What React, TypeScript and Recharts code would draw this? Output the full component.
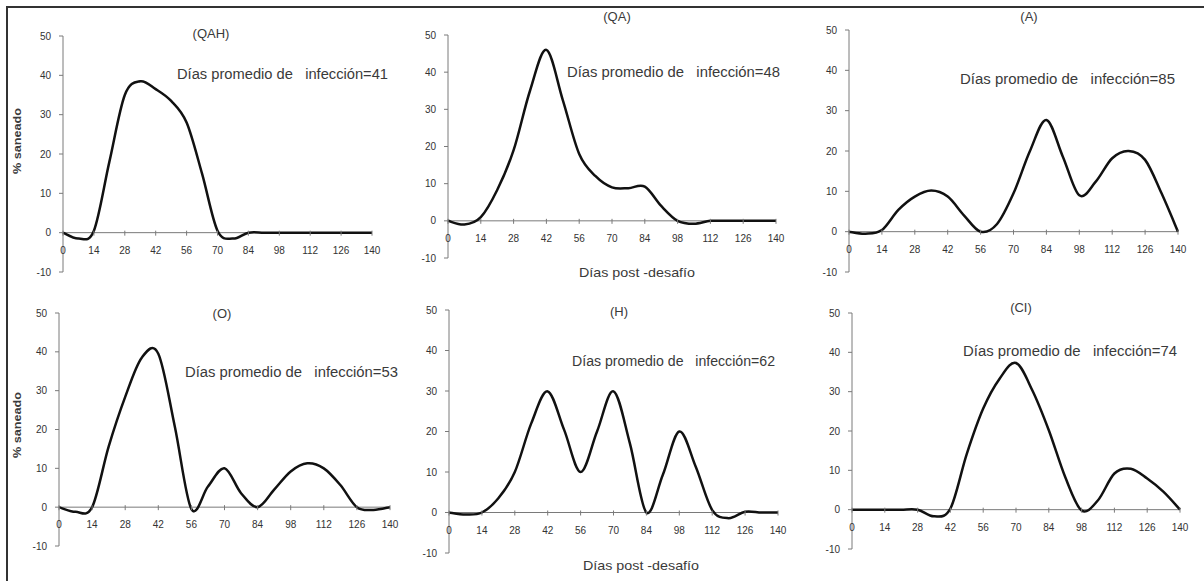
import React from 'react';
import { LineChart, Line, XAxis, YAxis, ReferenceLine } from 'recharts';

// ---------- data ----------
const days = [0, 7, 14, 21, 28, 35, 42, 49, 56, 63, 70, 77, 84, 91, 98, 105, 112, 119, 126, 133, 140];
const xTicks = [0, 14, 28, 42, 56, 70, 84, 98, 112, 126, 140];
const yTicks = [-10, 0, 10, 20, 30, 40, 50];

const seriesQAH = [0, -1.5, 0.5, 18, 35, 38.5, 36.5, 33.5, 28, 15, 0.5, -1.5, 0, 0, 0, 0, 0, 0, 0, 0, 0];
const seriesQA = [0, -1, 1, 8.3, 19, 35, 46, 32.5, 18, 12, 9, 8.8, 9.2, 4, 0, -0.8, 0, 0, 0, 0, 0];
const seriesA = [0, -0.5, 0.4, 5.4, 8.7, 10.2, 8.7, 4, 0, 1.9, 9.5, 20, 27.7, 18.6, 9, 12.4, 18.2, 20, 17.8, 9.5, 0];
const seriesO = [0, -1.2, 0, 15.6, 28.4, 38.5, 39.5, 20.7, -0.5, 5.3, 10, 3.6, 0, 4.5, 9.2, 11.3, 10, 5.7, 0, -0.7, 0];
const seriesH = [0, -0.5, 0, 3.5, 10, 22, 29.9, 20.4, 10, 20, 29.9, 17, 0, 9.3, 20, 11.3, 0.6, -1.4, 0.2, 0, 0];
const seriesCI = [0, 0, 0, 0, 0, -1.7, 0.3, 14.2, 25.7, 33.3, 37.3, 30.3, 20.2, 8.3, -0.2, 2.4, 9.2, 10.4, 7.9, 4.5, 0];

const titles = ['(QAH)', '(QA)', '(A)', '(O)', '(H)', '(CI)'];
const meanDays = [41, 48, 85, 53, 62, 74];
const yLabel = '% saneado';
const xLabel = 'Días post -desafío';

// ---------- layout ----------
const FONT = '"Liberation Sans", Arial, sans-serif';
const AXIS = '#7a7a7a';
const TXT = '#3a3a3a';
const YW = 40;
const MT = 10;
const MR = 12;
const XH = 14;

type Panel = {
  data: number[];
  axisX: number; endX: number; y50: number; yBot: number;
  titleX: number; titleY: number;
  noteX: number; noteY: number; noteW: number;
  showY: boolean; yLabY: number;
  showX: boolean; xLabX: number; xLabY: number;
};

const panels: Panel[] = [
  { data: seriesQAH, axisX: 63, endX: 372, y50: 36, yBot: 272, titleX: 211, titleY: 38, noteX: 177, noteY: 79, noteW: 211, showY: true, yLabY: 141, showX: false, xLabX: 0, xLabY: 0 },
  { data: seriesQA, axisX: 448, endX: 776, y50: 35, yBot: 258, titleX: 617, titleY: 21, noteX: 567, noteY: 77, noteW: 213, showY: false, yLabY: 0, showX: true, xLabX: 637, xLabY: 277 },
  { data: seriesA, axisX: 849, endX: 1178, y50: 30, yBot: 272, titleX: 1029, titleY: 21, noteX: 960, noteY: 84, noteW: 215, showY: false, yLabY: 0, showX: false, xLabX: 0, xLabY: 0 },
  { data: seriesO, axisX: 59, endX: 390, y50: 313, yBot: 546, titleX: 222, titleY: 318, noteX: 185, noteY: 377, noteW: 213, showY: true, yLabY: 425, showX: false, xLabX: 0, xLabY: 0 },
  { data: seriesH, axisX: 449, endX: 778, y50: 310, yBot: 553, titleX: 619, titleY: 316, noteX: 572, noteY: 366, noteW: 203, showY: false, yLabY: 0, showX: true, xLabX: 641, xLabY: 570 },
  { data: seriesCI, axisX: 852, endX: 1180, y50: 313, yBot: 549, titleX: 1021, titleY: 312, noteX: 963, noteY: 356, noteW: 214, showY: false, yLabY: 0, showX: false, xLabX: 0, xLabY: 0 },
];

// Smooth curve through the points (Catmull-Rom, like a spreadsheet "smoothed line")
const smoothCurve = (context: any) => {
  let pts: [number, number][] = [];
  return {
    areaStart() {},
    areaEnd() {},
    lineStart() {
      pts = [];
    },
    point(x: number, y: number) {
      pts.push([+x, +y]);
    },
    lineEnd() {
      const n = pts.length;
      if (n === 0) return;
      context.moveTo(pts[0][0], pts[0][1]);
      if (n === 1) return;
      for (let i = 0; i < n - 1; i++) {
        const p0 = pts[Math.max(0, i - 1)];
        const p1 = pts[i];
        const p2 = pts[i + 1];
        const p3 = pts[Math.min(n - 1, i + 2)];
        const c1x = p1[0] + (p2[0] - p0[0]) / 6;
        const c1y = p1[1] + (p2[1] - p0[1]) / 6;
        const c2x = p2[0] - (p3[0] - p1[0]) / 6;
        const c2y = p2[1] - (p3[1] - p1[1]) / 6;
        context.bezierCurveTo(c1x, c1y, c2x, c2y, p2[0], p2[1]);
      }
    },
  };
};

const XTick = (props: any) => {
  const { x, payload, zeroY } = props;
  return (
    <g>
      <line x1={x} x2={x} y1={zeroY - 2} y2={zeroY + 3} stroke={AXIS} strokeWidth={1} />
      <text x={x} y={zeroY + 21} textAnchor="middle" fontSize={10} fill="#333" fontFamily={FONT}>
        {payload.value}
      </text>
    </g>
  );
};

const PanelChart = ({ p }: { p: Panel }) => {
  const plotW = p.endX - p.axisX;
  const plotH = p.yBot - p.y50;
  const width = YW + plotW + MR;
  const height = MT + plotH + XH;
  const zeroY = MT + (plotH * 50) / 60;
  const rows = days.map((d, i) => ({ day: d, v: p.data[i] }));
  return (
    <div style={{ position: 'absolute', left: p.axisX - YW, top: p.y50 - MT }}>
      <LineChart width={width} height={height} data={rows} margin={{ top: MT, right: MR, bottom: 0, left: 0 }}>
        <XAxis
          dataKey="day"
          type="number"
          domain={[0, 140]}
          ticks={xTicks}
          interval={0}
          height={XH}
          axisLine={false}
          tickLine={false}
          tick={(tp: any) => <XTick {...tp} zeroY={zeroY} />}
        />
        <YAxis
          type="number"
          domain={[-10, 50]}
          ticks={yTicks}
          interval={0}
          width={YW}
          axisLine={{ stroke: AXIS, strokeWidth: 1 }}
          tickLine={{ stroke: AXIS, strokeWidth: 1 }}
          tickSize={4}
          tickMargin={8}
          tick={{ fontSize: 10, fill: '#333', fontFamily: FONT }}
        />
        <ReferenceLine y={0} stroke={AXIS} strokeWidth={1} ifOverflow="visible" />
        <Line
          dataKey="v"
          type={smoothCurve as any}
          stroke="#111"
          strokeWidth={2.5}
          dot={false}
          activeDot={false}
          isAnimationActive={false}
        />
      </LineChart>
    </div>
  );
};

export default function App() {
  return (
    <div style={{ position: 'absolute', left: 0, top: 0, width: 1204, height: 581, background: '#fff', overflow: 'hidden' }}>
      {panels.map((p, i) => (
        <PanelChart key={i} p={p} />
      ))}
      <svg width={1204} height={581} style={{ position: 'absolute', left: 0, top: 0, pointerEvents: 'none' }}>
        <line x1={6} x2={1204} y1={7} y2={7} stroke="#333" strokeWidth={2} />
        <line x1={7} x2={7} y1={6} y2={581} stroke="#333" strokeWidth={2} />
        {panels.map((p, i) => (
          <g key={i} fontFamily={FONT} fill={TXT}>
            <text x={p.titleX} y={p.titleY} textAnchor="middle" fontSize={13}>
              {titles[i]}
            </text>
            <text
              x={p.noteX}
              y={p.noteY}
              fontSize={14}
              textLength={p.noteW}
              lengthAdjust="spacingAndGlyphs"
              style={{ whiteSpace: 'pre' }}
            >
              {`Días promedio de   infección=${meanDays[i]}`}
            </text>
            {p.showY && (
              <text
                x={0}
                y={0}
                transform={`translate(21, ${p.yLabY}) rotate(-90)`}
                textAnchor="middle"
                fontSize={11}
                fontWeight="bold"
                textLength={66}
                lengthAdjust="spacingAndGlyphs"
              >
                {yLabel}
              </text>
            )}
            {p.showX && (
              <text
                x={p.xLabX}
                y={p.xLabY}
                textAnchor="middle"
                fontSize={13}
                textLength={116}
                lengthAdjust="spacingAndGlyphs"
              >
                {xLabel}
              </text>
            )}
          </g>
        ))}
      </svg>
    </div>
  );
}
